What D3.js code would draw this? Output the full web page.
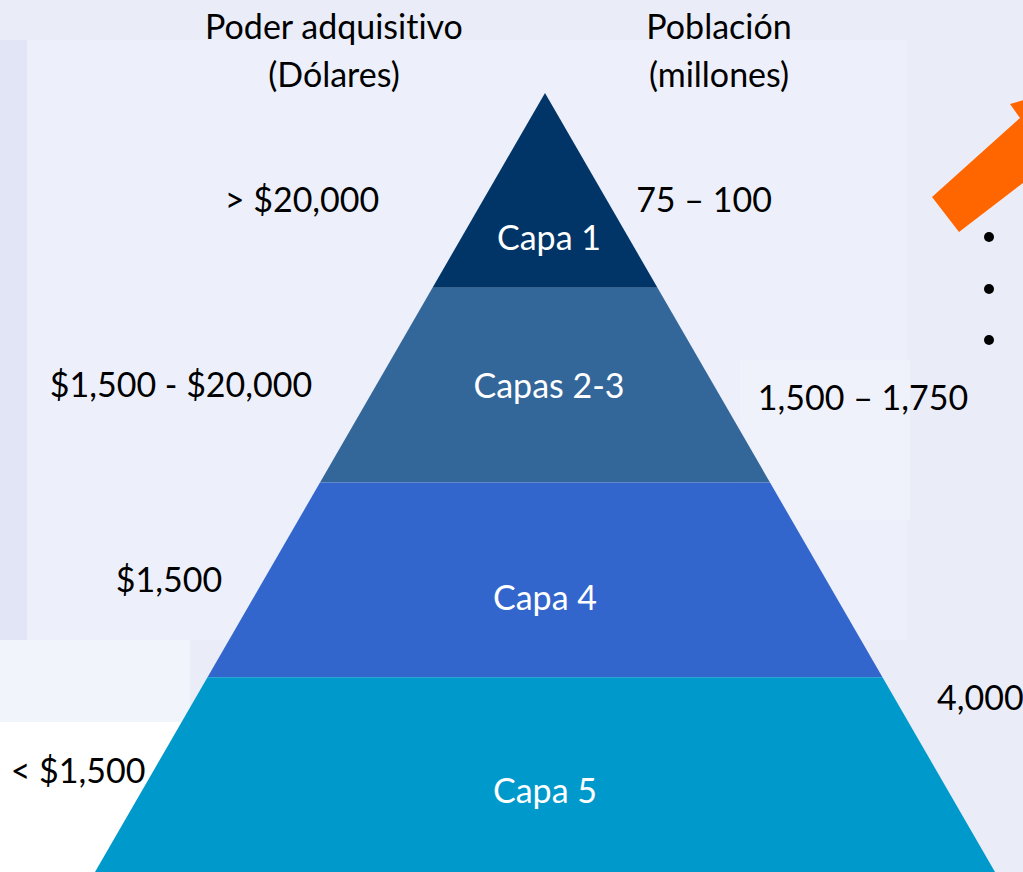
<!DOCTYPE html>
<html>
<head>
<meta charset="utf-8">
<script src="https://cdn.jsdelivr.net/npm/d3@7"></script>
<style>
  body { margin: 0; overflow: hidden; }
  svg { display: block; font-family: Lato, "Open Sans", sans-serif; font-variant-ligatures: none; }
</style>
</head>
<body>
<div class="board"></div>
<script>
// layers of the pyramid, top to bottom
const layers = ['Capa 1', 'Capas 2-3', 'Capa 4', 'Capa 5'];
const layerColors = ['#023567', '#336699', '#3366cc', '#0099cc'];
// left labels: purchasing power (dollars)
const poder = ['> $20,000', '$1,500 - $20,000', '$1,500', '< $1,500'];
// right labels: population (millions)
const poblacion = ['75 \u2013 100', '1,500 \u2013 1,750', '', '4,000'];
const headers = [['Poder adquisitivo', '(D\u00f3lares)'], ['Poblaci\u00f3n', '(millones)']];

const W = 1023, H = 872;
const FS = 34;
const svg = d3.select('.board').append('svg')
  .attr('width', W)
  .attr('height', H);

// background, a faint slide texture
svg.append('rect').attr('width', W).attr('height', H).attr('fill', '#eaedf8');
svg.append('rect').attr('x', 27).attr('y', 40).attr('width', 880).attr('height', 600).attr('fill', '#edf0fa');
svg.append('rect').attr('x', 0).attr('y', 40).attr('width', 27).attr('height', 600).attr('fill', '#e1e5f5');
svg.append('rect').attr('x', 0).attr('y', 640).attr('width', 190).attr('height', 82).attr('fill', '#f2f4fb');
svg.append('rect').attr('x', 0).attr('y', 722).attr('width', 190).attr('height', 150).attr('fill', '#ffffff');
svg.append('rect').attr('x', 740).attr('y', 360).attr('width', 170).attr('height', 160).attr('fill', '#f0f2fb');

// pyramid geometry through scales
const apexX = 545, apexY = 93, baseY = 872, baseHalf = 450;
const y = d3.scaleBand().domain(layers).range([apexY, baseY]).paddingInner(0);
const half = d3.scaleLinear().domain([apexY, baseY]).range([0, baseHalf]);

svg.selectAll('path.layer')
  .data(layers)
  .join('path')
  .attr('class', 'layer')
  .attr('fill', (d, i) => layerColors[i])
  .attr('d', d => {
    const t = y(d), b = y(d) + y.bandwidth();
    return d3.line()([
      [apexX - half(t), t], [apexX + half(t), t],
      [apexX + half(b), b], [apexX - half(b), b]
    ]) + 'Z';
  });

// layer names, baseline as a share of the band
const nameAt = [0.806, 0.566, 0.655, 0.646];
svg.selectAll('text.name')
  .data(layers)
  .join('text')
  .attr('class', 'name')
  .attr('x', (d, i) => i < 2 ? 549 : 545)
  .attr('y', (d, i) => y(d) + y.bandwidth() * nameAt[i])
  .attr('text-anchor', 'middle')
  .attr('fill', '#ffffff')
  .attr('font-size', FS)
  .text(d => d);

// left labels
const leftX = [302, 181, 169, 78];
const leftY = [212, 397, 592, 783];
svg.selectAll('text.poder')
  .data(poder)
  .join('text')
  .attr('class', 'poder')
  .attr('x', (d, i) => leftX[i])
  .attr('y', (d, i) => leftY[i])
  .attr('text-anchor', 'middle')
  .attr('fill', '#000')
  .attr('font-size', FS)
  .text(d => d);

// right labels
const rightX = [704, 863, 0, 937];
const rightY = [212, 410, 0, 710];
svg.selectAll('text.pob')
  .data(poblacion)
  .join('text')
  .attr('class', 'pob')
  .attr('x', (d, i) => rightX[i])
  .attr('y', (d, i) => rightY[i])
  .attr('text-anchor', (d, i) => i === 3 ? 'start' : 'middle')
  .attr('fill', '#000')
  .attr('font-size', FS)
  .text(d => d);

// headers
const headX = [334, 719];
headers.forEach((h, i) => {
  h.forEach((line, j) => {
    svg.append('text')
      .attr('x', headX[i])
      .attr('y', 39 + j * 48)
      .attr('text-anchor', 'middle')
      .attr('fill', '#000')
      .attr('font-size', FS)
      .text(line);
  });
});

// orange arrow going off to the top right
svg.append('path')
  .attr('d', 'M932,197 L959,232 L1040,170 L1050,180 L1060,90 L1010,104 L1020,118 Z')
  .attr('fill', '#ff6600');

// bullets at the right edge
[237, 289, 340].forEach(by => {
  svg.append('circle').attr('cx', 989).attr('cy', by).attr('r', 5).attr('fill', '#000');
});
</script>
</body>
</html>
